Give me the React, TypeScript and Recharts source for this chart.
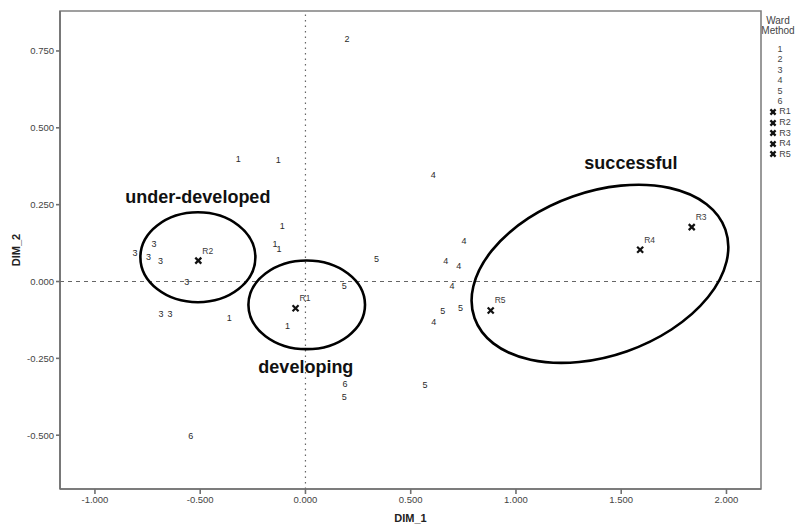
import React from 'react'
import { ScatterChart, Scatter, XAxis, YAxis, ReferenceLine, ReferenceArea } from 'recharts'

type Pt = { x: number; y: number }

// object scores per Ward cluster
const ward1: Pt[] = [
  { x: -0.319, y: 0.399 },
  { x: -0.129, y: 0.396 },
  { x: -0.110, y: 0.181 },
  { x: -0.145, y: 0.122 },
  { x: -0.126, y: 0.107 },
  { x: -0.362, y: -0.119 },
  { x: -0.085, y: -0.144 },
]
const ward2: Pt[] = [{ x: 0.197, y: 0.788 }]
const ward3: Pt[] = [
  { x: -0.810, y: 0.092 },
  { x: -0.720, y: 0.123 },
  { x: -0.745, y: 0.081 },
  { x: -0.688, y: 0.068 },
  { x: -0.564, y: 0.0 },
  { x: -0.686, y: -0.105 },
  { x: -0.644, y: -0.105 },
]
const ward4: Pt[] = [
  { x: 0.607, y: 0.347 },
  { x: 0.753, y: 0.133 },
  { x: 0.667, y: 0.068 },
  { x: 0.728, y: 0.051 },
  { x: 0.696, y: -0.014 },
  { x: 0.610, y: -0.132 },
]
const ward5: Pt[] = [
  { x: 0.338, y: 0.074 },
  { x: 0.184, y: -0.016 },
  { x: 0.652, y: -0.095 },
  { x: 0.737, y: -0.087 },
  { x: 0.568, y: -0.336 },
  { x: 0.184, y: -0.376 },
]
const ward6: Pt[] = [
  { x: 0.188, y: -0.334 },
  { x: -0.545, y: -0.504 },
]
const wardGroups = [ward1, ward2, ward3, ward4, ward5, ward6]
const wardLabels = ['1', '2', '3', '4', '5', '6']

const regionNames = ['R1', 'R2', 'R3', 'R4', 'R5']
const regionX = [-0.047, -0.509, 1.835, 1.590, 0.880]
const regionY = [-0.087, 0.068, 0.177, 0.103, -0.094]

const xTicks = [-1, -0.5, 0, 0.5, 1, 1.5, 2]
const yTicks = [-0.5, -0.25, 0, 0.25, 0.5, 0.75]
const xDomain = [-1.166, 2.164]
const yDomain = [-0.675, 0.88]

// hand-drawn cluster annotations
const clusterNames = ['under-developed', 'developing', 'successful']
const clusterLabelPos: Pt[] = [
  { x: -0.511, y: 0.275 },
  { x: 0.002, y: -0.277 },
  { x: 1.546, y: 0.385 },
]
const clusterCenters: Pt[] = [
  { x: -0.511, y: 0.079 },
  { x: 0.006, y: -0.076 },
  { x: 1.399, y: 0.025 },
]
const ellipseShape = [
  { rx: 57.5, ry: 45, rot: 0 },
  { rx: 58.3, ry: 44.3, rot: 0 },
  { rx: 133, ry: 82, rot: -19.4 },
]

const font = '"Liberation Sans Narrow", "Liberation Sans", Arial, sans-serif'
const sans = '"Liberation Sans", Arial, sans-serif'
const textColor = '#444'

const regionData = regionNames.map((name, i) => ({ name, x: regionX[i], y: regionY[i] }))
const ellipseData = clusterCenters.map((c, i) => ({ ...c, ...ellipseShape[i] }))
const clusterLabelData = clusterLabelPos.map((p, i) => ({ ...p, name: clusterNames[i] }))

const numberMark = (label: string) => (props: any) => (
  <text
    x={props.cx}
    y={props.cy}
    textAnchor="middle"
    dominantBaseline="central"
    fontSize={9}
    fontFamily={sans}
    fill="#2a2a2a"
    stroke="none"
  >
    {label}
  </text>
)

const Cross = ({ x, y, s = 3 }: { x: number; y: number; s?: number }) => (
  <g stroke="#111" strokeWidth={2.2}>
    <line x1={x - s} y1={y - s} x2={x + s} y2={y + s} />
    <line x1={x - s} y1={y + s} x2={x + s} y2={y - s} />
  </g>
)

const regionMark = (props: any) => (
  <g>
    <Cross x={props.cx} y={props.cy} />
    <text
      x={props.cx + 4}
      y={props.cy - 10}
      dominantBaseline="central"
      fontSize={8.5}
      fontFamily={sans}
      fill="#3a3a3a"
      stroke="none"
    >
      {props.payload.name}
    </text>
  </g>
)

const ellipseMark = (props: any) => {
  const { rx, ry, rot } = props.payload
  return (
    <ellipse
      cx={props.cx}
      cy={props.cy}
      rx={rx}
      ry={ry}
      transform={`rotate(${rot} ${props.cx} ${props.cy})`}
      fill="none"
      stroke="#000"
      strokeWidth={2.6}
    />
  )
}

const clusterLabel = (props: any) => (
  <text
    x={props.cx}
    y={props.cy}
    textAnchor="middle"
    dominantBaseline="central"
    fontSize={18}
    fontWeight="bold"
    fontFamily={sans}
    fill="#111"
    stroke="none"
  >
    {props.payload.name}
  </text>
)

function LegendBox() {
  return (
    <div
      style={{
        position: 'absolute',
        left: 757,
        top: 16,
        width: 42,
        textAlign: 'center',
        fontFamily: sans,
        color: '#444',
      }}
    >
      <div style={{ fontSize: 10, lineHeight: '10px' }}>Ward</div>
      <div style={{ fontSize: 10, lineHeight: '10px', marginBottom: 8 }}>Method</div>
      {wardLabels.map((l) => (
        <div key={l} style={{ fontSize: 9, lineHeight: '10.4px', paddingLeft: 4 }}>
          {l}
        </div>
      ))}
      {regionNames.map((r) => (
        <div key={r} style={{ fontSize: 9, lineHeight: '10.6px', whiteSpace: 'nowrap', paddingLeft: 4 }}>
          <svg width={8} height={8} style={{ verticalAlign: 'middle', marginRight: 2 }}>
            <Cross x={4} y={4} s={2.6} />
          </svg>
          {r}
        </div>
      ))}
    </div>
  )
}

export default function App() {
  return (
    <div style={{ position: 'absolute', left: 0, top: 0, width: 797, height: 526, background: '#fff' }}>
      <ScatterChart width={797} height={526} margin={{ top: 11, right: 36, bottom: 0, left: 0 }}>
        <ReferenceArea
          x1={xDomain[0]}
          x2={xDomain[1]}
          y1={yDomain[0]}
          y2={yDomain[1]}
          fill="none"
          stroke="#808080"
          strokeWidth={1.6}
          ifOverflow="visible"
        />
        <XAxis
          type="number"
          dataKey="x"
          domain={xDomain}
          ticks={xTicks}
          allowDataOverflow
          tickFormatter={(v: number) => v.toFixed(3)}
          height={37}
          tickSize={5}
          tickMargin={2}
          stroke="#707070"
          strokeWidth={1.6}
          tick={{ fontSize: 9.5, fill: textColor, fontFamily: font }}
          label={{
            value: 'DIM_1',
            position: 'insideBottom',
            offset: 4,
            fontSize: 11,
            fontWeight: 'bold',
            fill: '#222',
            fontFamily: sans,
          }}
        />
        <YAxis
          type="number"
          dataKey="y"
          domain={yDomain}
          ticks={yTicks}
          allowDataOverflow
          tickFormatter={(v: number) => v.toFixed(3)}
          width={60}
          tickSize={4}
          tickMargin={2}
          stroke="#707070"
          strokeWidth={1.6}
          tick={{ fontSize: 9.5, fill: textColor, fontFamily: font }}
          label={{
            value: 'DIM_2',
            angle: -90,
            position: 'center',
            dx: -14,
            fontSize: 11,
            fontWeight: 'bold',
            fill: '#222',
            fontFamily: sans,
          }}
        />
        <ReferenceLine x={0} stroke="#666" strokeDasharray="1.5 4" strokeWidth={1.2} />
        <ReferenceLine y={0} stroke="#666" strokeDasharray="4 4" strokeWidth={1} />
        {wardGroups.map((g, i) => (
          <Scatter
            key={wardLabels[i]}
            name={wardLabels[i]}
            data={g}
            fill="#2a2a2a"
            shape={numberMark(wardLabels[i])}
            isAnimationActive={false}
          />
        ))}
        <Scatter name="regions" data={regionData} fill="#111" shape={regionMark} isAnimationActive={false} />
        <Scatter name="ellipses" data={ellipseData} fill="none" shape={ellipseMark} isAnimationActive={false} />
        <Scatter
          name="clusterLabels"
          data={clusterLabelData}
          fill="#111"
          shape={clusterLabel}
          isAnimationActive={false}
        />
      </ScatterChart>
      <LegendBox />
    </div>
  )
}
